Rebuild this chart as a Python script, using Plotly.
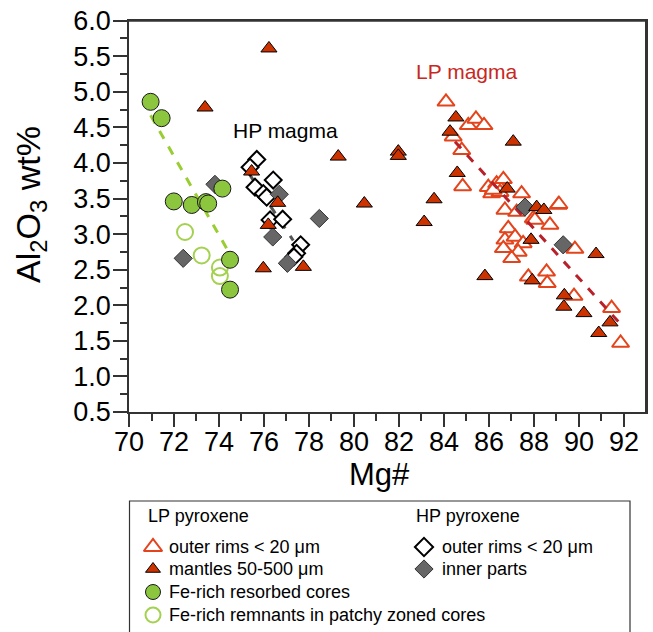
import plotly.graph_objects as go

W, H = 653, 632

# ---------------- data ----------------
lp_rim_mg = [84.09, 85.08, 85.42, 85.78, 84.41, 84.79, 84.83, 85.97, 86.34, 86.64, 86.12, 86.49,
             87.45, 86.71, 87.23, 89.08, 87.97, 88.71, 86.86, 86.71, 87.16, 87.52, 86.64, 87.30,
             87.01, 89.82, 87.75, 88.56, 88.59, 89.78, 91.45, 91.85, 88.04, 89.11, 86.19]
lp_rim_al = [4.86, 4.53, 4.62, 4.53, 4.37, 4.18, 3.67, 3.66, 3.71, 3.77, 3.57, 3.59,
             3.57, 3.34, 3.31, 3.41, 3.22, 3.13, 3.08, 2.92, 2.96, 2.87, 2.80, 2.75,
             2.66, 2.79, 2.40, 2.47, 2.31, 2.13, 1.96, 1.47, 3.20, 3.42, 3.62]

lp_mantle_mg = [76.22, 73.38, 75.45, 76.61, 76.19, 75.97, 77.75, 79.30, 81.97, 81.97, 80.46, 83.56,
                83.12, 84.53, 84.27, 84.59, 87.08, 86.81, 88.12, 88.44, 87.87, 90.76, 85.82, 87.92,
                89.35, 89.33, 90.22, 91.38, 90.88]
lp_mantle_al = [5.61, 4.78, 3.88, 3.44, 3.13, 2.52, 2.54, 4.09, 4.16, 4.10, 3.43, 3.49,
                3.17, 4.64, 4.44, 3.86, 4.30, 3.64, 3.38, 3.34, 2.92, 2.72, 2.41, 2.35,
                2.14, 1.98, 1.89, 1.76, 1.61]

fe_core_mg = [70.96, 71.45, 71.99, 72.79, 73.42, 73.52, 74.15, 74.49, 74.49]
fe_core_al = [4.86, 4.63, 3.46, 3.41, 3.45, 3.43, 3.64, 2.64, 2.22]

fe_remnant_mg = [72.49, 73.23, 74.04, 74.04]
fe_remnant_al = [3.03, 2.70, 2.53, 2.41]

hp_rim_mg = [75.68, 75.38, 76.41, 75.60, 75.97, 76.12, 76.27, 76.83, 77.63, 77.45, 77.33]
hp_rim_al = [4.05, 3.94, 3.76, 3.66, 3.57, 3.52, 3.20, 3.21, 2.85, 2.73, 2.68]

hp_inner_mg = [72.41, 73.82, 76.68, 78.46, 76.39, 77.04, 87.60, 89.30]
hp_inner_al = [2.66, 3.70, 3.56, 3.22, 2.96, 2.59, 3.38, 2.85]

# trend lines (end points)
fe_trend_mg = [70.96, 74.34]
fe_trend_al = [4.67, 2.80]
hp_trend_mg = [75.40, 77.30]
hp_trend_al = [3.82, 2.91]
lp_trend_mg = [84.49, 91.75]
lp_trend_al = [4.30, 1.77]

x_ticks = [70, 72, 74, 76, 78, 80, 82, 84, 86, 88, 90, 92]
y_ticks = [0.5, 1.0, 1.5, 2.0, 2.5, 3.0, 3.5, 4.0, 4.5, 5.0, 5.5, 6.0]

# ---------------- styles ----------------
RED_FILL = "#cc3300"
RED_OPEN = "#e4441c"
GREEN = "#8cc63f"
GREEN_OPEN = "#a5d150"
GRAY = "#666666"
FONT = "Liberation Sans, Arial, Helvetica, sans-serif"
AX_COL = "#333333"

st_rim = dict(symbol="triangle-up", size=15, color="white", line=dict(color=RED_OPEN, width=2))
st_mantle = dict(symbol="triangle-up", size=14, color=RED_FILL, line=dict(color="black", width=1))
st_core = dict(symbol="circle", size=17, color=GREEN, line=dict(color="#1a1a1a", width=1))
st_rem = dict(symbol="circle-open", size=16, color=GREEN_OPEN, line=dict(color=GREEN_OPEN, width=2))
st_hprim = dict(symbol="diamond", size=13, color="white", line=dict(color="black", width=2))
st_hpin = dict(symbol="diamond", size=14, color=GRAY, line=dict(color="#333333", width=1))

# layout geometry (window pixels)
PLOT_L, PLOT_R, PLOT_T, PLOT_B = 129, 646, 20.7, 412

fig = go.Figure()

def sc(x, y, marker):
    fig.add_trace(go.Scatter(x=x, y=y, mode="markers", marker=marker, showlegend=False,
                             hoverinfo="skip", cliponaxis=False))

def ln(x, y, color):
    fig.add_trace(go.Scatter(x=x, y=y, mode="lines", showlegend=False, hoverinfo="skip",
                             line=dict(color=color, width=3, dash="dash")))

ln(fe_trend_mg, fe_trend_al, "#9acd32")
ln(hp_trend_mg, hp_trend_al, "#555555")
sc(lp_rim_mg, lp_rim_al, st_rim)
ln(lp_trend_mg, lp_trend_al, "#b8202a")
sc(hp_rim_mg, hp_rim_al, st_hprim)
sc(hp_inner_mg, hp_inner_al, st_hpin)
sc(fe_remnant_mg, fe_remnant_al, st_rem)
sc(fe_core_mg, fe_core_al, st_core)
sc(lp_mantle_mg, lp_mantle_al, st_mantle)

# ---------------- legend (custom, pixel layout on the helper axes) ----------------
lg_rows_lp = [547, 569, 592, 615]
lg_rows_hp = [547, 569]
lg_lp_labels = ["outer rims < 20 μm", "mantles 50-500 μm", "Fe-rich resorbed cores",
                "Fe-rich remnants in patchy zoned cores"]
lg_hp_labels = ["outer rims < 20 μm", "inner parts"]
lg_lp_styles = [dict(st_rim, size=16), dict(st_mantle, size=13), dict(st_core, size=15), dict(st_rem, size=15)]
lg_hp_styles = [dict(st_hprim, size=14), dict(st_hpin, size=14)]

for yy, m in zip(lg_rows_lp, lg_lp_styles):
    fig.add_trace(go.Scatter(x=[153], y=[yy], mode="markers", marker=m, xaxis="x2", yaxis="y2",
                             showlegend=False, hoverinfo="skip", cliponaxis=False))
for yy, m in zip(lg_rows_hp, lg_hp_styles):
    fig.add_trace(go.Scatter(x=[424], y=[yy], mode="markers", marker=m, xaxis="x2", yaxis="y2",
                             showlegend=False, hoverinfo="skip", cliponaxis=False))

def px_x(px):
    return px / W

def px_y(py):
    return 1 - py / H

ann = []
def txt(px, py, s, size=18, color="black", xanchor="left", angle=0):
    ann.append(dict(x=px_x(px), y=px_y(py), xref="paper", yref="paper", text=s, showarrow=False,
                    xanchor=xanchor, yanchor="middle", textangle=angle,
                    font=dict(family=FONT, size=size, color=color)))

txt(146, 516, "LP pyroxene")
txt(414, 516, "HP pyroxene")
for yy, s in zip(lg_rows_lp, lg_lp_labels):
    txt(167, yy, s)
for yy, s in zip(lg_rows_hp, lg_hp_labels):
    txt(440, yy, s)

# axis titles
txt(379, 474, "Mg#", size=31, xanchor="center")
txt(31, 205, "Al<sub>2</sub>O<sub>3</sub> wt%", size=34, xanchor="center", angle=-90)

# in-plot labels (data coords)
ann.append(dict(x=74.55, y=4.46, xref="x", yref="y", text="HP magma", showarrow=False,
                xanchor="left", yanchor="middle", font=dict(family=FONT, size=21, color="black")))
ann.append(dict(x=82.66, y=5.28, xref="x", yref="y", text="LP magma", showarrow=False,
                xanchor="left", yanchor="middle", font=dict(family=FONT, size=21, color="#c8281e")))

shapes = [
    # plot frame: top and right sides (paper-referenced, not clipped)
    dict(type="line", xref="paper", yref="paper", x0=px_x(PLOT_L), x1=px_x(PLOT_R + 0.75),
         y0=px_y(PLOT_T), y1=px_y(PLOT_T), line=dict(color=AX_COL, width=2), layer="above"),
    dict(type="line", xref="paper", yref="paper", x0=px_x(PLOT_R), x1=px_x(PLOT_R),
         y0=px_y(PLOT_T), y1=px_y(PLOT_B), line=dict(color=AX_COL, width=2), layer="above"),
    # legend box, open at the bottom edge of the window
    dict(type="path", xref="paper", yref="paper",
         path="M {:.5f},{:.5f} L {:.5f},{:.5f} L {:.5f},{:.5f} L {:.5f},{:.5f}".format(
             px_x(129.5), px_y(640), px_x(129.5), px_y(501),
             px_x(630), px_y(501), px_x(630), px_y(640)),
         line=dict(color=AX_COL, width=1.2), layer="above"),
]

fig.update_layout(
    width=W, height=H, margin=dict(l=0, r=0, t=0, b=0, autoexpand=False),
    paper_bgcolor="white", plot_bgcolor="rgba(0,0,0,0)",
    font=dict(family=FONT, color="black"),
    annotations=ann, shapes=shapes,
    xaxis=dict(domain=[px_x(PLOT_L), px_x(PLOT_R)], range=[70, 92.98], tickvals=x_ticks, automargin=False,
               ticks="outside", ticklen=13, tickwidth=1.5, tickcolor=AX_COL, ticklabelstandoff=-8,
               ticklabeloverflow="allow",
               showline=True, linecolor=AX_COL, linewidth=1.5, mirror=True,
               showgrid=False, zeroline=False, tickfont=dict(size=27, family=FONT),
               minor=dict(ticks="outside", ticklen=7, dtick=1, tickwidth=1.5, tickcolor=AX_COL, showgrid=False)),
    yaxis=dict(domain=[px_y(PLOT_B), px_y(PLOT_T)], range=[0.5, 6.0], tickvals=y_ticks,
               tickformat=".1f", automargin=False, ticklabelstandoff=-3, ticklabeloverflow="allow",
               ticks="outside", ticklen=14, tickwidth=1.5, tickcolor=AX_COL,
               showline=True, linecolor=AX_COL, linewidth=1.5, mirror=True,
               showgrid=False, zeroline=False, tickfont=dict(size=27, family=FONT),
               minor=dict(ticks="outside", ticklen=7, dtick=0.25, tickwidth=1.5, tickcolor=AX_COL, showgrid=False)),
    xaxis2=dict(domain=[0, 1], range=[0, W], visible=False, anchor="y2", automargin=False),
    yaxis2=dict(domain=[0, 1], range=[H, 0], visible=False, anchor="x2", automargin=False),
)

# remove the default page margin so the figure sits at the window origin
fig.write_html("out.html", config={"displayModeBar": False},
               post_script="document.body.style.margin='0px';"
                           "document.documentElement.style.overflow='hidden';")
